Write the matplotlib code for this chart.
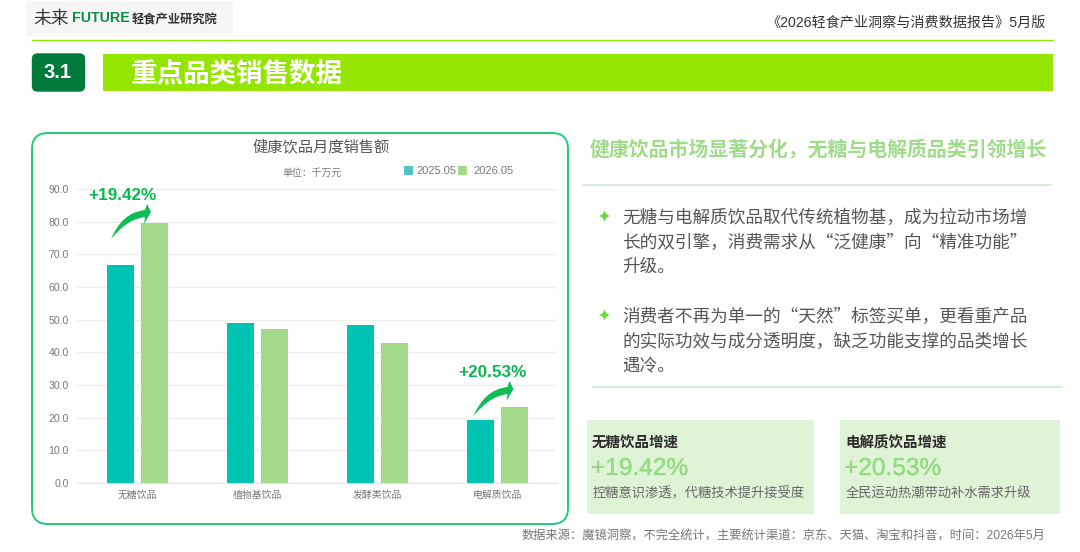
import matplotlib
matplotlib.use('Agg')
import matplotlib.pyplot as plt
import matplotlib.patheffects as pe
from matplotlib.patches import FancyBboxPatch, Rectangle, PathPatch
from matplotlib.path import Path
import numpy as np

plt.rcParams['font.family'] = ['Liberation Sans', 'Noto Sans CJK SC']
CJK = ['Noto Sans CJK SC', 'Liberation Sans']

categories = ['无糖饮品', '植物基饮品', '发酵类饮品', '电解质饮品']
sales_2025 = [66.7, 49.0, 48.5, 19.4]
sales_2026 = [79.7, 47.2, 42.9, 23.3]
series_names = ['2025.05', '2026.05']
y_ticks = [0, 10, 20, 30, 40, 50, 60, 70, 80, 90]
growth_labels = ['+19.42%', '+20.53%']

W, H = 1080, 552
fig = plt.figure(figsize=(W/100, H/100), dpi=100, facecolor='white')
bg = fig.add_axes([0, 0, 1, 1])
bg.set_xlim(0, W); bg.set_ylim(H, 0); bg.axis('off')

LIME = '#94E600'; DARK = '#007A3A'; CARD = '#DFF3D6'; NUM = '#93DB80'
TXT = '#555555'; GREY = '#777777'; RULE = '#C6EAC6'

# header
bg.add_patch(Rectangle((26, 1), 207, 35, fc='#F6F6F6', ec='none'))
bg.text(33, 19.5, '未来', fontsize=12.8, color='#333333', va='center', ha='left')
bg.text(72, 18.5, 'FUTURE', fontsize=10.3, color='#0E8A46', va='center', ha='left', fontweight='bold')
bg.text(132, 20, '轻食产业研究院', fontsize=8.85, color='#333333', va='center', ha='left', fontweight='bold')
bg.text(1046, 22.5, '《2026轻食产业洞察与消费数据报告》5月版', fontsize=10.15, color='#333333', va='center', ha='right')
bg.plot([32, 1053], [40, 40], color=LIME, lw=1)
bg.add_patch(FancyBboxPatch((32.5, 54), 52, 37, boxstyle='round,pad=0,rounding_size=5', fc=DARK, ec=DARK, lw=1))
bg.text(58, 72.5, '3.1', fontsize=14.5, color='white', va='center', ha='center', fontweight='bold')
bg.add_patch(Rectangle((103, 54), 950, 37, fc=LIME, ec='none'))
bg.text(131, 75.5, '重点品类销售数据', fontsize=19.1, color='white', va='center', ha='left', fontweight='bold')

# chart card
bg.add_patch(FancyBboxPatch((32, 133), 536, 391, boxstyle='round,pad=0,rounding_size=16', fc='white', ec='#22CC70', lw=1.4))

# chart axes
ax = fig.add_axes([77/W, 1-483/H, 480/W, 294/H])
ax.patch.set_alpha(0)
x = np.arange(len(categories))
unit = 27/120
off = 17/120
ax.bar(x-off, sales_2025, unit, color='#00C4B3', zorder=3)
ax.bar(x+off, sales_2026, unit, color='#A2D98A', zorder=3)
ax.set_xlim(-0.5, 3.5); ax.set_ylim(0, 90)
ax.set_yticks(y_ticks, [f'{v:.1f}' for v in y_ticks])
ax.set_xticks(x, categories)
ax.tick_params(axis='both', length=0, labelcolor='#777777')
ax.tick_params(axis='y', labelsize=7.6, pad=6)
ax.tick_params(axis='x', labelsize=7.1, pad=5)
ax.grid(axis='y', color='#EEEEEE', lw=1, zorder=0)
for s in ['top', 'right', 'left']:
    ax.spines[s].set_visible(False)
ax.spines['bottom'].set_color('#E3E3E3')

# overlay for the growth callouts, above the chart
top = fig.add_axes([0, 0, 1, 1])
top.set_xlim(0, W); top.set_ylim(H, 0); top.axis('off')

top.text(321, 146.5, '健康饮品月度销售额', fontsize=11, color='#555555', va='center', ha='center')
top.text(312, 172.5, '单位：千万元', fontsize=7.1, color=GREY, va='center', ha='center')
top.add_patch(Rectangle((404, 166), 9, 9, fc='#55C2C8', ec='none'))
top.add_patch(Rectangle((458, 166), 9, 9, fc='#A2D98A', ec='none'))
top.text(416, 171, series_names[0], fontsize=8, color=GREY, va='center', ha='left')
top.text(473, 171, series_names[1], fontsize=8, color=GREY, va='center', ha='left')

def curved_arrow(x0, y0):
    # swoosh shape relative to its start point
    rel = [(0, 0), (8, -18), (18, -27), (34, -29), (36, -35), (40, -27),
           (33, -15), (34, -22), (20, -20), (10, -12), (0, 0)]
    codes = [Path.MOVETO, Path.CURVE4, Path.CURVE4, Path.CURVE4, Path.LINETO, Path.LINETO,
             Path.LINETO, Path.LINETO, Path.CURVE4, Path.CURVE4, Path.CURVE4]
    verts = [(x0+a, y0+b) for a, b in rel]
    top.add_patch(PathPatch(Path(verts, codes), fc='#0DBE55', ec='none', zorder=5))

curved_arrow(111, 239)
curved_arrow(473.5, 416)
top.text(122, 196, growth_labels[0], fontsize=12.3, color='#0BB84F', va='center', ha='center', fontweight='bold', zorder=6)
top.text(492.5, 372.5, growth_labels[1], fontsize=12.3, color='#0BB84F', va='center', ha='center', fontweight='bold', zorder=6)

# right column
bg.text(818, 148.5, '健康饮品市场显著分化，无糖与电解质品类引领增长', fontsize=14.35, color='#9FDC8A', va='center', ha='center', fontweight='bold', family=CJK)
bg.plot([583, 1051], [185, 185], color=RULE, lw=1.1)
bg.plot([593, 1062], [387, 387], color=RULE, lw=1.1)
lines1 = ['无糖与电解质饮品取代传统植物基，成为拉动市场增', '长的双引擎，消费需求从“泛健康”向“精准功能”', '升级。']
lines2 = ['消费者不再为单一的“天然”标签买单，更看重产品', '的实际功效与成分透明度，缺乏功能支撑的品类增长', '遇冷。']
for i, t in enumerate(lines1):
    bg.text(622, 218+24.5*i, t, fontsize=12.7, color=TXT, va='center', ha='left', family=CJK)
for i, t in enumerate(lines2):
    bg.text(622, 317+24.5*i, t, fontsize=12.7, color=TXT, va='center', ha='left', family=CJK)

def star(cx, cy, r=6.5):
    codes = [Path.MOVETO] + [Path.CURVE3, Path.CURVE3]*4
    k = 0.07*r
    pts = [(0, -r), (k, -k), (r, 0), (k, k), (0, r), (-k, k), (-r, 0), (-k, -k), (0, -r)]
    bg.add_patch(PathPatch(Path([(cx+a, cy+b) for a, b in pts], codes), fc='#6CD63C', ec='none'))

star(604.5, 216)
star(604.5, 315)

# cards
for (x0, x1), title, num, desc in [((587, 814), '无糖饮品增速', growth_labels[0], '控糖意识渗透，代糖技术提升接受度'),
                                  ((840, 1060), '电解质饮品增速', growth_labels[1], '全民运动热潮带动补水需求升级')]:
    bg.add_patch(Rectangle((x0, 420), x1-x0, 93.5, fc=CARD, ec='none'))
    bg.text(x0+5, 443, title, fontsize=10.45, color='#2B2B2B', va='center', ha='left', fontweight='bold')
    t = bg.text(x0+4, 469, num, fontsize=17.6, color=NUM, va='center', ha='left')
    t.set_path_effects([pe.withStroke(linewidth=0.25, foreground=NUM)])
    bg.text(x0+5.5, 494, desc, fontsize=9.55, color='#666666', va='center', ha='left')

bg.text(1045, 537, '数据来源：魔镜洞察，不完全统计，主要统计渠道：京东、天猫、淘宝和抖音，时间：2026年5月', fontsize=8.8, color=GREY, va='center', ha='right')

fig.savefig('out.png', dpi=100)
